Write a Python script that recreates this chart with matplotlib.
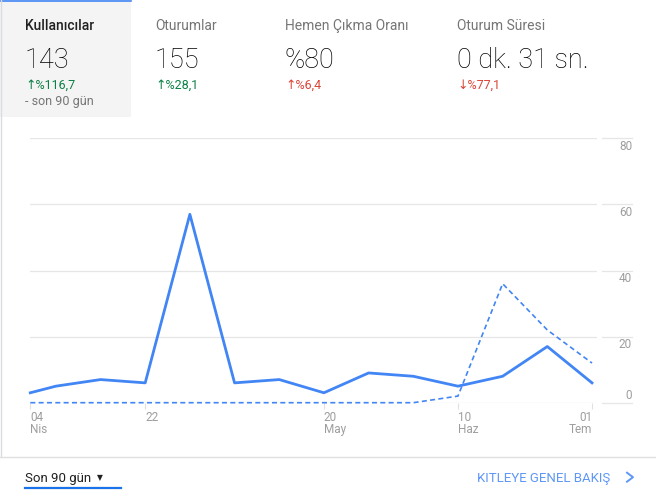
import matplotlib.pyplot as plt
import matplotlib.dates as mdates
import matplotlib.transforms as mtransforms
from matplotlib.lines import Line2D
from matplotlib.patches import Rectangle
from datetime import datetime, timedelta

plt.rcParams['font.family'] = ['Roboto', 'DejaVu Sans']

# haftalık kullanıcı sayıları (son 90 gün) ve önceki dönem
dates = ["2018-04-04", "2018-04-08", "2018-04-15", "2018-04-22", "2018-04-29",
         "2018-05-06", "2018-05-13", "2018-05-20", "2018-05-27", "2018-06-03",
         "2018-06-10", "2018-06-17", "2018-06-24", "2018-07-01"]
users = [3, 5, 7, 6, 57, 6, 7, 3, 9, 8, 5, 8, 17, 6]
users_prev = [0, 0, 0, 0, 0, 0, 0, 0, 0, 0, 2, 36, 22, 12]

tick_dates = ["2018-04-04", "2018-04-22", "2018-05-20", "2018-06-10", "2018-07-01"]
tick_labels = ["04\nNis", "22", "20\nMay", "10\nHaz", "01\nTem"]
y_ticks = [0, 20, 40, 60, 80]

metric_names = ["Kullanıcılar", "Oturumlar", "Hemen Çıkma Oranı", "Oturum Süresi"]
metric_values = ["143", "155", "%80", "0 dk. 31 sn."]
metric_changes = ["↑%116,7", "↑%28,1", "↑%6,4", "↓%77,1"]
change_colors = ["#0b8043", "#0b8043", "#db4437", "#db4437"]
metric_x = [25, 155, 285, 457]

W, H = 656, 493
fig = plt.figure(figsize=(W / 100, H / 100), dpi=100)


def fx(x):
    return x / W


def fy(y):
    return 1 - y / H


# seçili sekme arka planı
fig.add_artist(Rectangle((0, fy(117)), fx(131), 117 / H, transform=fig.transFigure,
                         facecolor="#f4f4f4", edgecolor="none", zorder=0))
fig.add_artist(Line2D([0, fx(131)], [fy(0.6), fy(0.6)], color="#4285f4", lw=1.2))
fig.add_artist(Line2D([fx(0.5), fx(0.5)], [fy(0), fy(457)], color="#dadce0", lw=1))

for i in range(4):
    x = fx(metric_x[i])
    fig.text(x, fy(30), metric_names[i], fontsize=10,
             color="#212121" if i == 0 else "#757575",
             fontweight="medium" if i == 0 else "normal")
    fig.text(x, fy(68), metric_values[i], fontsize=19.5, color="#000000",
             fontweight="light")
    fig.text(x, fy(88.3), metric_changes[i], fontsize=9, color=change_colors[i])
fig.text(fx(25), fy(105), "- son 90 gün", fontsize=9, color="#757575")

# grafik
ax = fig.add_axes([fx(30.3), fy(402.7), (597 - 30.3) / W, (402.7 - 138.3) / H])
x = [datetime.strptime(d, "%Y-%m-%d") for d in dates]
ax.plot(x, users_prev, color="#4285f4", lw=1.2, dashes=(3, 2), clip_on=False, zorder=3)
ax.plot(x, users, color="#4285f4", lw=2, clip_on=False, zorder=4)

x0 = x[0]
ax.set_xlim(x0, x0 + timedelta(days=(597 - 30.3) / 6.383))
ax.set_ylim(0, 80)
for s in ax.spines.values():
    s.set_visible(False)
ax.set_yticks(y_ticks)
ax.tick_params(axis="y", length=0, labelleft=False)
ax.grid(axis="y", color="#e6e6e6", lw=0.9)
ax.set_xticks([datetime.strptime(d, "%Y-%m-%d") for d in tick_dates])
ax.set_xticklabels(tick_labels)
ax.tick_params(axis="x", length=4.3, width=0.8, color="#e0e0e0", pad=1.5,
               labelsize=8.5, labelcolor="#9e9e9e")
labels = ax.get_xticklabels()
for i, lab in enumerate(labels):
    lab.set_ha("right" if i == len(labels) - 1 else "left")
    lab.set_linespacing(0.95)

# sağ eksen etiketleri ve kısa kılavuz çizgileri
trans = mtransforms.blended_transform_factory(ax.transAxes, ax.transData)
for v in y_ticks:
    ax.plot([1.0088, 1.0618], [v, v], transform=trans, color="#e6e6e6", lw=0.9,
            clip_on=False)
    dy = 2.45 if v == 0 else -8.4
    t = mtransforms.offset_copy(trans, fig=fig, y=dy, units="points")
    ax.text(1.0618, v, str(v), transform=t, ha="right", va="baseline",
            fontsize=8.5, color="#9e9e9e")

# alt kısım
fig.add_artist(Line2D([0, 1], [fy(457.3), fy(457.3)], color="#e0e0e0", lw=1))
fig.text(fx(25), fy(481.7), "Son 90 gün", fontsize=9.5, color="#212121")
fig.text(fx(97), fy(480), "▼", fontsize=5.5, color="#212121", family="DejaVu Sans")
fig.add_artist(Line2D([fx(25), fx(121)], [fy(488.3), fy(488.3)], color="#1a73e8", lw=1.6))
fig.text(fx(477), fy(481.7), "KITLEYE GENEL BAKIŞ", fontsize=9.5, color="#5e97f6")
fig.add_artist(Line2D([fx(627), fx(633), fx(627)], [fy(472.7), fy(477.2), fy(481.7)],
                      color="#5e97f6", lw=1.4))

fig.savefig("out.png", dpi=100)
